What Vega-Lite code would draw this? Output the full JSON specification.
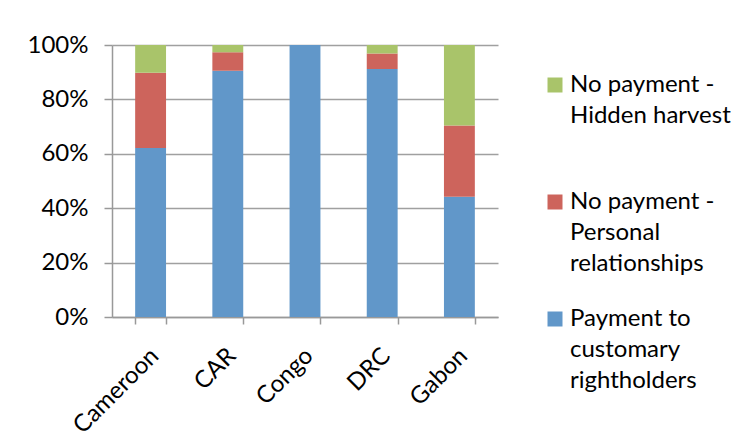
{
  "$schema": "https://vega.github.io/schema/vega-lite/v6.json",
  "autosize": "none",
  "width": 386,
  "height": 272,
  "padding": {"left": 112, "top": 45, "right": 258, "bottom": 131},
  "background": "white",
  "data": {
    "values": [
      {"country": "Cameroon", "type": "Payment to customary rightholders", "rank": 1, "share": 0.621},
      {"country": "Cameroon", "type": "No payment - Personal relationships", "rank": 2, "share": 0.277},
      {"country": "Cameroon", "type": "No payment - Hidden harvest", "rank": 3, "share": 0.102},
      {"country": "CAR", "type": "Payment to customary rightholders", "rank": 1, "share": 0.905},
      {"country": "CAR", "type": "No payment - Personal relationships", "rank": 2, "share": 0.068},
      {"country": "CAR", "type": "No payment - Hidden harvest", "rank": 3, "share": 0.027},
      {"country": "Congo", "type": "Payment to customary rightholders", "rank": 1, "share": 1.0},
      {"country": "Congo", "type": "No payment - Personal relationships", "rank": 2, "share": 0.0},
      {"country": "Congo", "type": "No payment - Hidden harvest", "rank": 3, "share": 0.0},
      {"country": "DRC", "type": "Payment to customary rightholders", "rank": 1, "share": 0.912},
      {"country": "DRC", "type": "No payment - Personal relationships", "rank": 2, "share": 0.057},
      {"country": "DRC", "type": "No payment - Hidden harvest", "rank": 3, "share": 0.031},
      {"country": "Gabon", "type": "Payment to customary rightholders", "rank": 1, "share": 0.442},
      {"country": "Gabon", "type": "No payment - Personal relationships", "rank": 2, "share": 0.262},
      {"country": "Gabon", "type": "No payment - Hidden harvest", "rank": 3, "share": 0.296}
    ]
  },
  "mark": {"type": "bar"},
  "encoding": {
    "x": {
      "field": "country",
      "type": "nominal",
      "sort": ["Cameroon", "CAR", "Congo", "DRC", "Gabon"],
      "scale": {"paddingInner": 0.6, "paddingOuter": 0.3},
      "axis": {
        "title": null,
        "labelAngle": -45,
        "labelAlign": "right",
        "labelBaseline": "middle",
        "labelPadding": 28,
        "labelOffset": 4,
        "tickBand": "extent",
        "tickSize": 7,
        "labelFontSize": 24
      }
    },
    "y": {
      "field": "share",
      "type": "quantitative",
      "stack": "zero",
      "scale": {"domain": [0, 1]},
      "axis": {
        "title": null,
        "format": ".0%",
        "values": [0, 0.2, 0.4, 0.6, 0.8, 1],
        "tickSize": 8,
        "labelPadding": 16,
        "labelFontSize": 24
      }
    },
    "order": {"field": "rank", "type": "quantitative", "sort": "ascending"},
    "color": {
      "field": "type",
      "type": "nominal",
      "scale": {
        "domain": ["No payment - Hidden harvest", "No payment - Personal relationships", "Payment to customary rightholders"],
        "range": ["#a9c46a", "#cd645c", "#6197c9"]
      },
      "legend": {
        "title": null,
        "orient": "none",
        "legendX": 431,
        "legendY": 28,
        "symbolType": "square",
        "symbolSize": 225,
        "symbolStrokeWidth": 0,
        "labelFontSize": 24,
        "labelOffset": 3,
        "labelLimit": 400,
        "labelBaseline": "middle",
        "rowPadding": 31,
        "encode": {"labels": {"update": {"lineHeight": {"value": 31}}}},
        "labelExpr": "datum.label == 'No payment - Hidden harvest' ? ['No payment -', 'Hidden harvest', ''] : datum.label == 'No payment - Personal relationships' ? ['No payment -', 'Personal', 'relationships'] : ['Payment to', 'customary', 'rightholders']"
      }
    }
  },
  "config": {
    "font": "Lato",
    "view": {"stroke": null},
    "axis": {
      "labelColor": "#000000",
      "labelFont": "Lato",
      "domainColor": "#999999",
      "tickColor": "#999999",
      "gridColor": "#a0a0a0",
      "domainWidth": 1.5,
      "tickWidth": 1.5
    },
    "axisX": {"grid": false},
    "axisY": {"grid": true, "gridWidth": 1.5},
    "legend": {"labelColor": "#000000", "labelFont": "Lato"}
  }
}
